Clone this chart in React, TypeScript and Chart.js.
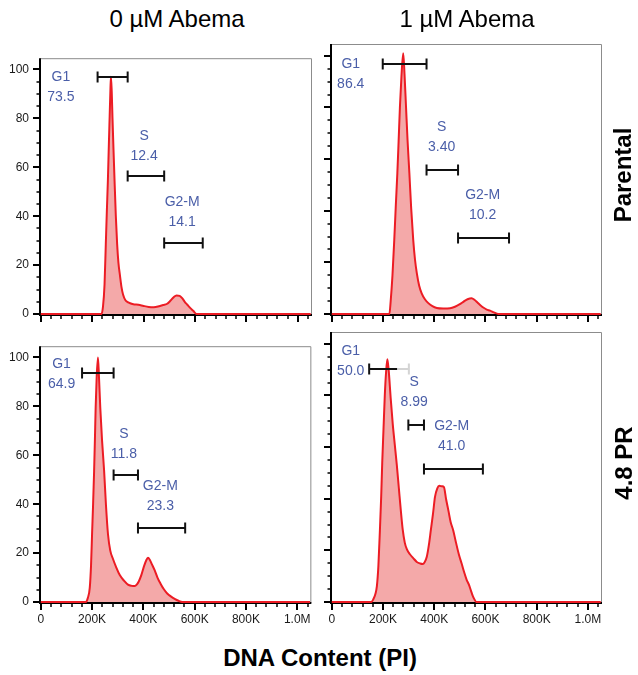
import React, { useEffect, useRef } from "react";
import { Chart, registerables } from "chart.js";

Chart.register(...registerables);

// ---------- data (x in thousands of PI units, y = % of max) ----------
const columnTitles = ["0 µM Abema", "1 µM Abema"];
const rowTitles = ["Parental", "4.8 PR"];
const axisTitle = "DNA Content (PI)";

const xMajorTicks = [0, 200, 400, 600, 800, 1000];
const xTickLabels = ["0", "200K", "400K", "600K", "800K", "1.0M"];
const yMajorTicks = [0, 20, 40, 60, 80, 100];
const yTickLabels = ["0", "20", "40", "60", "80", "100"];
const xMinorTicks = [40, 80, 120, 160, 240, 280, 320, 360, 440, 480, 520, 560, 640, 680, 720, 760, 840, 880, 920, 960, 1040];
const yMinorTicks = [5, 10, 15, 25, 30, 35, 45, 50, 55, 65, 70, 75, 85, 90, 95];

const gateNames = ["G1", "S", "G2-M"];

// Parental, 0 µM
const tlX = [0, 200, 236, 242, 248, 253, 257, 261, 265, 268, 271, 273, 276, 279, 283, 287, 292, 297, 302, 308, 314, 320, 330, 340, 360, 380, 400, 420, 440, 460, 476, 490, 505, 518, 528, 540, 550, 560, 570, 582, 593, 606, 800, 1050];
const tlY = [0, 0, 0, 3, 12, 28.7, 42, 54.5, 70, 81, 92, 97, 91, 80, 67, 54.5, 40, 28.7, 21, 15.8, 11, 8, 5.5, 4.8, 4, 3.8, 3.3, 2.9, 2.8, 3.2, 3.7, 4.1, 5.5, 7, 7.6, 7.4, 6.5, 5, 3.8, 2.4, 1.3, 0, 0, 0];
const tlPct = ["73.5", "12.4", "14.1"];
const tlGateStart = [221, 338, 480];
const tlGateEnd = [338, 480, 630];
const tlGateLevel = [96.9, 56.3, 29];
const tlLabelX = [78, 402, 550];
const tlLabelY = [96.9, 72.6, 45.7];

// Parental, 1 µM
const trX = [0, 200, 225, 230, 237, 244, 250, 256, 261, 266, 272, 279, 284, 290, 296, 303, 310, 318, 325, 332, 341, 351, 363, 377, 393, 410, 435, 462, 481, 500, 515, 530, 546, 558, 568, 579, 593, 605, 618, 633, 650, 800, 1050];
const trY = [0, 0, 0, 5, 15, 28.7, 42, 54.5, 67, 80, 92, 101, 93, 80, 67, 54.5, 41, 28.7, 21, 15.8, 11, 8, 5.8, 4.2, 3, 2.3, 2.1, 2.2, 2.8, 3.8, 4.8, 5.7, 6.1, 5.4, 4.5, 3.5, 2.4, 1.7, 1.3, 0.6, 0, 0, 0];
const trPct = ["86.4", "3.40", "10.2"];
const trGateStart = [199, 370, 493];
const trGateEnd = [370, 493, 692];
const trGateLevel = [96.9, 55.8, 29.6];
const trLabelX = [74, 429, 589];
const trLabelY = [96.9, 72.2, 46.1];

// 4.8 PR, 0 µM
const blX = [0, 150, 175, 183, 191, 196, 200, 204, 208, 211, 214, 218, 223, 227, 232, 239, 247, 254, 262, 271, 282, 295, 308, 324, 340, 355, 366, 375, 382, 392, 402, 411, 418, 425, 433, 444, 455, 467, 480, 493, 507, 522, 537, 552, 800, 1050];
const blY = [0, 0, 0, 1.5, 5.8, 15, 27.8, 40, 53.6, 66, 79.5, 92, 100, 92, 79.5, 66, 53.6, 40, 27.8, 21, 17.5, 14, 11, 8.8, 7.1, 6.6, 6.5, 7.2, 8.4, 11, 14.5, 17, 18.1, 17.3, 15.5, 13, 10, 7.5, 5.2, 3.5, 2.3, 1.3, 0.5, 0, 0, 0];
const blPct = ["64.9", "11.8", "23.3"];
const blGateStart = [161, 284, 379];
const blGateEnd = [284, 379, 563];
const blGateLevel = [93.5, 51.8, 30.4];
const blLabelX = [81, 324, 466];
const blLabelY = [97.3, 68.8, 47.2];

// 4.8 PR, 1 µM
const brX = [0, 140, 155, 162, 170, 176, 182, 188, 193, 197, 202, 207, 212, 217, 222, 230, 238, 246, 254, 262, 270, 277, 285, 293, 305, 318, 332, 345, 355, 363, 371, 379, 387, 395, 403, 412, 420, 430, 438, 446, 455, 464, 474, 485, 496, 507, 517, 527, 535, 543, 550, 557, 564, 800, 1050];
const brY = [0, 0, 0, 1, 3, 6, 14, 28, 41, 54, 67, 80, 89, 94, 90, 79, 69, 61, 53, 44, 35, 28, 23, 20.5, 18.5, 17, 15.5, 14.9, 14.7, 15.5, 17.5, 22, 28, 34, 40.7, 44, 45, 44.8, 44.5, 40, 35.6, 31, 27.8, 23, 18.5, 14.9, 11.5, 8.5, 6.8, 4.5, 2.5, 1, 0, 0, 0];
const brPct = ["50.0", "8.99", "41.0"];
const brGateStart = [146, 299, 360];
const brGateEnd = [301, 360, 590];
const brGateLevel = [90.2, 68.7, 51.4];
const brGateFade: (number | null)[] = [256, null, null];
const brLabelX = [74, 322, 468];
const brLabelY = [97.3, 85.1, 68.3];

// ---------- styling / layout ----------
const FONT = 'Arial, "Liberation Sans", Helvetica, sans-serif';
const LINE_RED = "#ec1c24";
const FILL_PINK = "rgba(242, 150, 150, 0.82)";
const GATE_BLUE = "#4a5ea8";

type PanelDef = {
  xs: number[];
  ys: number[];
  pct: string[];
  gs: number[];
  ge: number[];
  gl: number[];
  fade: (number | null)[];
  lx: number[];
  ly: number[];
  left: number;
  top: number;
  padRight: number;
  showX: boolean;
  showY: boolean;
};

const panels: PanelDef[] = [
  { xs: tlX, ys: tlY, pct: tlPct, gs: tlGateStart, ge: tlGateEnd, gl: tlGateLevel, fade: [null, null, null], lx: tlLabelX, ly: tlLabelY, left: 0, top: 40, padRight: 8, showX: false, showY: true },
  { xs: trX, ys: trY, pct: trPct, gs: trGateStart, ge: trGateEnd, gl: trGateLevel, fade: [null, null, null], lx: trLabelX, ly: trLabelY, left: 291, top: 40, padRight: 9, showX: false, showY: false },
  { xs: blX, ys: blY, pct: blPct, gs: blGateStart, ge: blGateEnd, gl: blGateLevel, fade: [null, null, null], lx: blLabelX, ly: blLabelY, left: 0, top: 328, padRight: 8, showX: true, showY: true },
  { xs: brX, ys: brY, pct: brPct, gs: brGateStart, ge: brGateEnd, gl: brGateLevel, fade: brGateFade, lx: brLabelX, ly: brLabelY, left: 291, top: 328, padRight: 9, showX: true, showY: false },
];

const CANVAS_W = 320;
const CANVAS_H = 300;

function makeDecor(p: PanelDef) {
  return {
    id: "panelDecor",
    beforeDatasetsDraw(chart: any) {
      const { ctx, chartArea: a, scales } = chart;
      const xs = scales.x;
      const ys = scales.y;
      ctx.save();
      // grey frame (top / right)
      ctx.strokeStyle = "#8c8c8c";
      ctx.lineWidth = 1;
      ctx.beginPath();
      ctx.moveTo(a.left, a.top + 0.5);
      ctx.lineTo(a.right - 0.5, a.top + 0.5);
      ctx.lineTo(a.right - 0.5, a.bottom);
      ctx.stroke();
      // axes
      ctx.strokeStyle = "#000";
      ctx.lineWidth = 2;
      ctx.beginPath();
      ctx.moveTo(a.left, a.top);
      ctx.lineTo(a.left, a.bottom);
      ctx.lineTo(a.right, a.bottom);
      ctx.stroke();
      // y ticks
      for (const v of yMajorTicks) {
        const py = Math.round(ys.getPixelForValue(v));
        ctx.lineWidth = 2;
        ctx.beginPath();
        ctx.moveTo(a.left - 7, py);
        ctx.lineTo(a.left, py);
        ctx.stroke();
      }
      for (const v of yMinorTicks) {
        const py = Math.round(ys.getPixelForValue(v));
        ctx.lineWidth = 1.5;
        ctx.beginPath();
        ctx.moveTo(a.left - 3.5, py);
        ctx.lineTo(a.left, py);
        ctx.stroke();
      }
      // x ticks
      for (const v of xMajorTicks) {
        const px = Math.round(xs.getPixelForValue(v));
        ctx.lineWidth = 2;
        ctx.beginPath();
        ctx.moveTo(px, a.bottom);
        ctx.lineTo(px, a.bottom + 7);
        ctx.stroke();
      }
      for (const v of xMinorTicks) {
        const px = Math.round(xs.getPixelForValue(v));
        ctx.lineWidth = 1.5;
        ctx.beginPath();
        ctx.moveTo(px, a.bottom);
        ctx.lineTo(px, a.bottom + 4);
        ctx.stroke();
      }
      ctx.restore();
    },
    afterDatasetsDraw(chart: any) {
      const { ctx, scales } = chart;
      const xs = scales.x;
      const ys = scales.y;
      ctx.save();
      ctx.lineWidth = 2;
      for (let i = 0; i < p.gs.length; i++) {
        const x1 = xs.getPixelForValue(p.gs[i]);
        const x2 = xs.getPixelForValue(p.ge[i]);
        const yy = Math.round(ys.getPixelForValue(p.gl[i]));
        const f = p.fade[i];
        const xf = f == null ? x2 : xs.getPixelForValue(f);
        ctx.strokeStyle = "#111";
        ctx.beginPath();
        ctx.moveTo(x1, yy);
        ctx.lineTo(xf, yy);
        ctx.moveTo(x1, yy - 5.5);
        ctx.lineTo(x1, yy + 5.5);
        if (f == null) {
          ctx.moveTo(x2, yy - 5.5);
          ctx.lineTo(x2, yy + 5.5);
        }
        ctx.stroke();
        if (f != null) {
          ctx.strokeStyle = "#d4d4d4";
          ctx.beginPath();
          ctx.moveTo(xf, yy);
          ctx.lineTo(x2, yy);
          ctx.moveTo(x2, yy - 5.5);
          ctx.lineTo(x2, yy + 5.5);
          ctx.stroke();
        }
      }
      ctx.fillStyle = GATE_BLUE;
      ctx.font = `14px ${FONT}`;
      ctx.textAlign = "center";
      ctx.textBaseline = "middle";
      for (let i = 0; i < gateNames.length; i++) {
        const lx = xs.getPixelForValue(p.lx[i]);
        const ly = ys.getPixelForValue(p.ly[i]);
        ctx.fillText(gateNames[i], lx, ly);
        ctx.fillText(p.pct[i], lx, ly + 20);
      }
      ctx.restore();
    },
  };
}

function Panel({ def }: { def: PanelDef }) {
  const ref = useRef<HTMLCanvasElement | null>(null);
  useEffect(() => {
    if (!ref.current) return;
    const chart = new Chart(ref.current, {
      type: "line",
      data: {
        datasets: [
          {
            data: def.xs.map((x, i) => ({ x, y: def.ys[i] })),
            borderColor: LINE_RED,
            backgroundColor: FILL_PINK,
            borderWidth: 2,
            fill: "origin",
            pointRadius: 0,
            cubicInterpolationMode: "monotone",
          } as any,
        ],
      },
      options: {
        responsive: false,
        animation: false,
        layout: { padding: { left: 0, right: def.padRight, top: 4, bottom: 0 }, autoPadding: false } as any,
        plugins: { legend: { display: false }, tooltip: { enabled: false } },
        scales: {
          x: {
            type: "linear",
            min: -3,
            max: 1055,
            afterBuildTicks: (s: any) => {
              s.ticks = xMajorTicks.map((v) => ({ value: v }));
            },
            afterFit: (s: any) => {
              s.height = 25;
            },
            grid: { display: false, drawTicks: false },
            border: { display: false },
            ticks: {
              display: def.showX,
              padding: 9,
              maxRotation: 0,
              autoSkip: false,
              color: "#1a1a1a",
              font: { family: FONT, size: 12 },
              callback: (_v: any, i: number) => xTickLabels[i],
            },
          },
          y: {
            type: "linear",
            min: -0.4,
            max: 104.6,
            afterBuildTicks: (s: any) => {
              s.ticks = yMajorTicks.map((v) => ({ value: v }));
            },
            afterFit: (s: any) => {
              s.width = 40;
            },
            grid: { display: false, drawTicks: false },
            border: { display: false },
            ticks: {
              display: def.showY,
              padding: 11,
              autoSkip: false,
              color: "#1a1a1a",
              font: { family: FONT, size: 12 },
              callback: (_v: any, i: number) => yTickLabels[i],
            },
          },
        },
      },
      plugins: [makeDecor(def)],
    });
    return () => chart.destroy();
  }, [def]);
  return (
    <canvas
      ref={ref}
      width={CANVAS_W}
      height={CANVAS_H}
      style={{ position: "absolute", left: def.left, top: def.top, width: CANVAS_W, height: CANVAS_H }}
    />
  );
}

export default function App() {
  const textBase: React.CSSProperties = {
    position: "absolute",
    fontFamily: FONT,
    whiteSpace: "nowrap",
    lineHeight: "24px",
    color: "#000",
  };
  return (
    <div style={{ position: "absolute", left: 0, top: 0, width: 638, height: 675, background: "#fff", overflow: "hidden" }}>
      {panels.map((p, i) => (
        <Panel key={i} def={p} />
      ))}
      <div style={{ ...textBase, fontSize: 24, left: 177, top: 7, transform: "translateX(-50%)" }}>{columnTitles[0]}</div>
      <div style={{ ...textBase, fontSize: 24, left: 467, top: 7, transform: "translateX(-50%)" }}>{columnTitles[1]}</div>
      <div style={{ ...textBase, fontSize: 24, fontWeight: "bold", left: 623, top: 175, transform: "translate(-50%, -50%) rotate(-90deg)" }}>{rowTitles[0]}</div>
      <div style={{ ...textBase, fontSize: 24, fontWeight: "bold", left: 624, top: 463, transform: "translate(-50%, -50%) rotate(-90deg)" }}>{rowTitles[1]}</div>
      <div style={{ ...textBase, fontSize: 24, fontWeight: "bold", left: 320, top: 658, transform: "translate(-50%, -50%)" }}>{axisTitle}</div>
    </div>
  );
}
